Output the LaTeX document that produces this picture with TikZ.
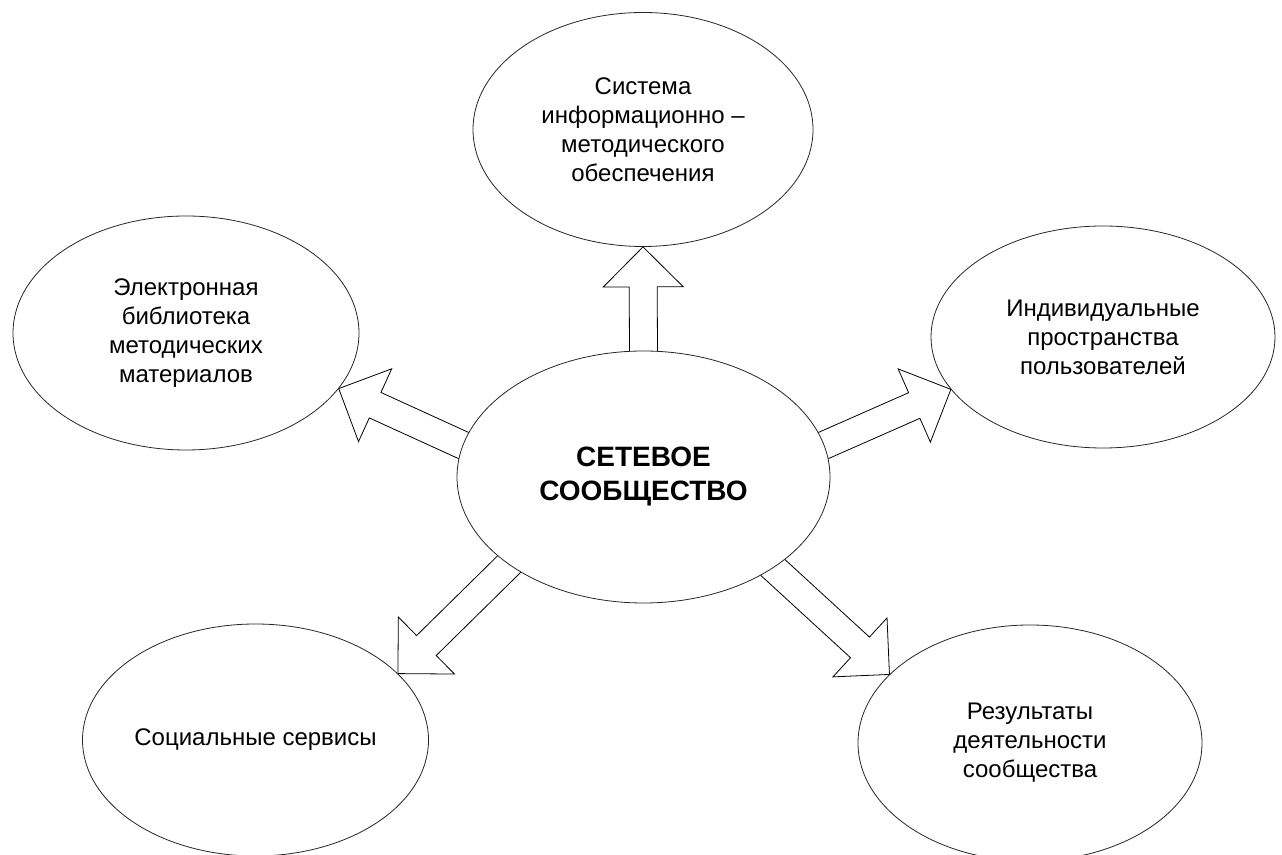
\documentclass[tikz,border=0pt]{standalone}
\usepackage{fontspec}
\setmainfont{Liberation Sans}
\usetikzlibrary{shapes.geometric,calc,backgrounds}
\begin{document}
\begin{tikzpicture}[x=1pt,y=1pt,
  part/.style={ellipse,draw=black!85,line width=0.8pt,fill=white,inner sep=0pt,
    minimum width=344pt,minimum height=232pt,align=center,
    font=\fontsize{24}{29}\selectfont},
  hub/.style={part,minimum width=373pt,minimum height=252pt,
    font=\fontsize{28}{34}\selectfont\bfseries},
  fat/.style={draw=black,line width=0.8pt,fill=white,line join=miter}]
\useasboundingbox (0,0) rectangle (1282,854);
% centre
\node[hub] (core) at (643.5,377) {СЕТЕВОЕ\\СООБЩЕСТВО};
% around it
\node[part,minimum width=340pt,minimum height=234pt] (sys) at (643,724.5)
  {Система\\информационно –\\методического\\обеспечения};
\node[part,minimum width=346pt,minimum height=234pt] (lib) at (186,521)
  {Электронная\\библиотека\\методических\\материалов};
\node[part,minimum height=222pt] (users) at (1103,517)
  {Индивидуальные\\пространства\\пользователей};
\node[part,minimum width=346pt] (social) at (255.5,114) {Социальные сервисы};
\node[part,minimum height=236pt] (results) at (1030,111)
  {Результаты\\деятельности\\сообщества};
% block arrows
\begin{scope}[on background layer]
\foreach \s/\t in {core.90/sys.-90, core.170/lib.-20, core.10/users.199,
                   core.213/social.25, core.-35/results.154}{
  \coordinate (o) at ($(\s)!-12pt!(\t)$);
  \coordinate (b) at ($(\t)!40pt!(\s)$);
  \draw[fat] ($(o)!14pt!90:(\t)$) -- ($(b)!14pt!90:(\t)$) -- ($(b)!40pt!90:(\t)$)
    -- (\t) -- ($(b)!40pt!-90:(\t)$) -- ($(b)!14pt!-90:(\t)$)
    -- ($(o)!14pt!-90:(\t)$) -- cycle;
}
\end{scope}
\end{tikzpicture}
\end{document}
